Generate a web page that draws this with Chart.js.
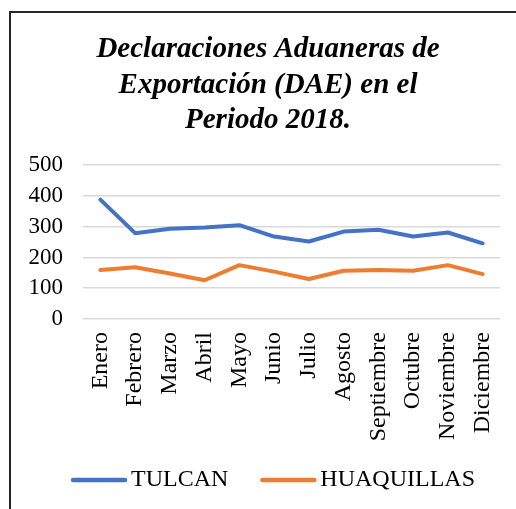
<!DOCTYPE html>
<html>
<head>
<meta charset="utf-8">
<script src="https://cdn.jsdelivr.net/npm/chart.js@4.4.0/dist/chart.umd.min.js"></script>
<style>
  html, body { margin: 0; padding: 0; background: #ffffff; overflow: hidden; }
  #wrap { position: absolute; left: 0; top: 0; width: 516px; height: 509px; }
  #frame { position: absolute; left: 9px; top: 11px; width: 600px; height: 600px; border: 2px solid #262626; box-sizing: border-box; }
  canvas { position: absolute; left: 0; top: 0; }
</style>
</head>
<body>
<div id="wrap">
  <div id="frame"></div>
  <canvas id="c" width="516" height="509"></canvas>
</div>
<script>
const titleLines = ["Declaraciones Aduaneras de", "Exportación (DAE) en el", "Periodo 2018."];
const months = ["Enero", "Febrero", "Marzo", "Abril", "Mayo", "Junio", "Julio", "Agosto", "Septiembre", "Octubre", "Noviembre", "Diciembre"];
const tulcan = [388, 279, 293, 297, 305, 268, 252, 284, 290, 268, 281, 246];
const huaquillas = [159, 168, 148, 126, 175, 154, 130, 157, 159, 157, 175, 146];
const yTicks = [0, 100, 200, 300, 400, 500];

const serif = "'Liberation Serif', 'Times New Roman', serif";
const BLUE = '#4472C4';
const ORANGE = '#ED7D31';

// legend swatch: a short thick line with round caps, placed close to its text
function swatch(color) {
  const c = document.createElement('canvas');
  c.width = 78; c.height = 8;
  const g = c.getContext('2d');
  g.strokeStyle = color;
  g.lineWidth = 4.5;
  g.lineCap = 'round';
  g.beginPath();
  g.moveTo(22, 4);
  g.lineTo(74, 4);
  g.stroke();
  return c;
}

new Chart(document.getElementById('c'), {
  type: 'line',
  data: {
    labels: months,
    datasets: [
      { label: 'TULCAN', data: tulcan, borderColor: BLUE, backgroundColor: BLUE, borderWidth: 4, pointRadius: 0, tension: 0, borderCapStyle: 'round', borderJoinStyle: 'round', pointStyle: swatch(BLUE) },
      { label: 'HUAQUILLAS', data: huaquillas, borderColor: ORANGE, backgroundColor: ORANGE, borderWidth: 4, pointRadius: 0, tension: 0, borderCapStyle: 'round', borderJoinStyle: 'round', pointStyle: swatch(ORANGE) }
    ]
  },
  options: {
    responsive: false,
    animation: false,
    layout: { padding: { left: 26, right: 6, top: 32, bottom: 7 } },
    plugins: {
      title: {
        display: true,
        text: titleLines,
        color: '#000000',
        font: { family: serif, size: 29, weight: 'bold', style: 'italic', lineHeight: 1.22 },
        padding: { top: 0, bottom: 27 }
      },
      legend: {
        position: 'bottom',
        labels: {
          color: '#000000',
          font: { family: serif, size: 24 },
          usePointStyle: true,
          pointStyleWidth: 58,
          boxHeight: 8,
          padding: 22
        }
      },
      tooltip: { enabled: false }
    },
    scales: {
      x: {
        offset: true,
        grid: { display: false, drawTicks: false },
        border: { display: false },
        ticks: { color: '#000000', font: { family: serif, size: 24 }, minRotation: 90, maxRotation: 90, padding: 13, autoSkip: false },
        afterFit: (axis) => { axis.height = 127; axis.paddingLeft = 0; axis.paddingRight = 0; }
      },
      y: {
        min: 0, max: 500,
        afterBuildTicks: (axis) => { axis.ticks = yTicks.map(v => ({ value: v })); },
        grid: { color: '#D9D9D9', lineWidth: 1.5, drawTicks: false },
        border: { display: false },
        ticks: { color: '#000000', font: { family: serif, size: 23 }, padding: 20 },
        afterFit: (axis) => { axis.width = 57; axis.paddingTop = 0; axis.paddingBottom = 0; }
      },
      yPad: {
        position: 'right',
        grid: { display: false, drawTicks: false },
        border: { display: false },
        ticks: { display: false },
        afterFit: (axis) => { axis.width = 10; axis.paddingTop = 0; axis.paddingBottom = 0; }
      }
    }
  }
});
</script>
</body>
</html>
